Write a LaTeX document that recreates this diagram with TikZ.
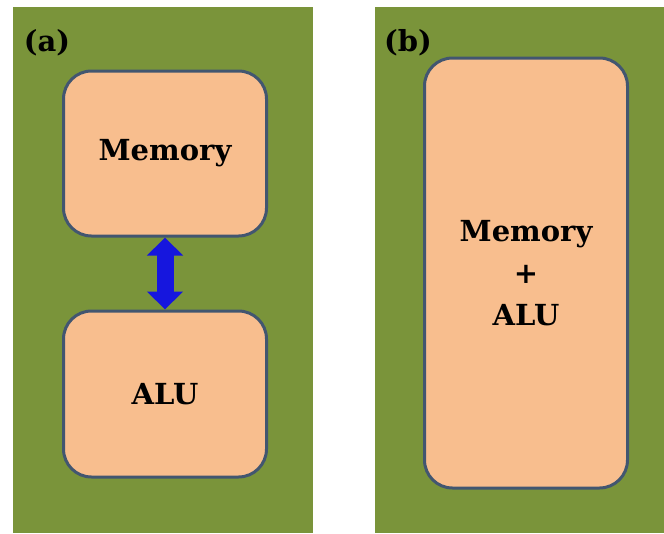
\documentclass[tikz,border=0pt]{standalone}
\usepackage{fontspec}
\setmainfont{DejaVu Serif}
\usetikzlibrary{arrows.meta}
\definecolor{boardgreen}{RGB}{122,148,58}
\definecolor{unitfill}{RGB}{248,190,142}
\definecolor{unitline}{RGB}{66,86,112}
\definecolor{busblue}{RGB}{22,22,222}
\tikzset{
  unit/.style={draw=unitline,line width=3pt,fill=unitfill,rounded corners=28pt,
    minimum width=203pt,font=\bfseries\fontsize{29}{42}\selectfont,align=center},
  panellabel/.style={font=\bfseries\fontsize{29}{32}\selectfont}
}
\begin{document}
\begin{tikzpicture}[x=1pt,y=-1pt]
    \useasboundingbox (0,0) rectangle (664,533);
    \fill[white] (0,0) rectangle (664,533);
    % the two boards
    \fill[boardgreen] (13,7) rectangle (313,533);
    \fill[boardgreen] (375,7) rectangle (664,533);
    \node[panellabel] (lbla) at (47,43) {(a)};
    \node[panellabel] (lblb) at (408,43) {(b)};

    % separate memory and ALU
    \node[unit,minimum height=165pt] (mem) at (165,153.5) {Memory};
    \node[unit,minimum height=166pt] (alu) at (165,394) {ALU};
    \draw[busblue,line width=17pt,{Triangle[width=35pt,length=18pt]}-{Triangle[width=35pt,length=18pt]}] (mem.south) -- (alu.north);

    % merged unit
    \node[unit,minimum height=430pt] (memalu) at (526,273) {Memory\\+\\ALU};
\end{tikzpicture}
\end{document}
